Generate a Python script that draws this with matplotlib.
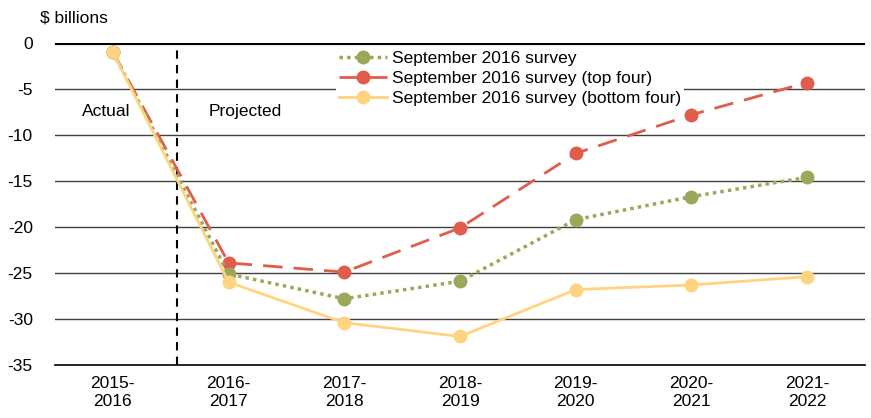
import matplotlib.pyplot as plt

plt.rcParams['font.family'] = ['Liberation Sans', 'DejaVu Sans']
plt.rcParams['axes.unicode_minus'] = False

years = ['2015-\n2016', '2016-\n2017', '2017-\n2018', '2018-\n2019',
         '2019-\n2020', '2020-\n2021', '2021-\n2022']
survey = [-1.0, -25.1, -27.8, -25.9, -19.2, -16.7, -14.6]
top_four = [-1.0, -23.9, -24.9, -20.1, -12.0, -7.8, -4.3]
bottom_four = [-1.0, -26.0, -30.4, -31.9, -26.8, -26.3, -25.4]

fs = 12.5
fig = plt.figure(figsize=(8.71, 4.18), dpi=100)
ax = fig.add_axes([55/871, 1 - 365/418, 810/871, 322/418])

x = list(range(len(years)))
ax.plot(x, survey, color='#9BA85A', ls=(0, (1, 1.2)), lw=2.5, marker='o', ms=9,
        label='September 2016 survey', zorder=4)
ax.plot(x, top_four, color='#E05C4B', ls=(0, (7, 4)), lw=2, marker='o', ms=9,
        label='September 2016 survey (top four)', zorder=3)
ax.plot(x, bottom_four, color='#FFD37F', ls='-', lw=2, marker='o', ms=9,
        label='September 2016 survey (bottom four)', zorder=5)

ax.set_xlim(-0.5, 6.5)
ax.set_ylim(-35, 0)
ax.set_yticks(range(-35, 1, 5))
ax.set_xticks(x)
ax.set_xticklabels(years)
ax.tick_params(length=0, labelsize=fs, pad=8)
ax.tick_params(axis='y', pad=16)
for yv in range(-30, 0, 5):
    ax.axhline(yv, color='#404040', lw=1, zorder=1)
ax.axhline(0, color='black', lw=3, zorder=6)
for s in ['top', 'right', 'left']:
    ax.spines[s].set_visible(False)
ax.spines['bottom'].set_color('black')
ax.spines['bottom'].set_linewidth(1.2)

ax.axvline(0.555, color='black', ls=(0, (4, 3)), lw=1.5, zorder=2)
ax.text(-0.06, -7.5, 'Actual', fontsize=fs, ha='center', va='center')
ax.text(1.14, -7.5, 'Projected', fontsize=fs, ha='center', va='center')

fig.text(40/871, 1 - 18/418, '$ billions', fontsize=fs, va='center')

leg = ax.legend(loc='upper left', bbox_to_anchor=(0.347, 0.985), fontsize=fs,
                frameon=True, fancybox=False, edgecolor='none', framealpha=1,
                handlelength=2.8, borderpad=0.15, labelspacing=0.28,
                handletextpad=0.3, borderaxespad=0)
leg.set_zorder(7)

fig.savefig('out.png', dpi=100)
